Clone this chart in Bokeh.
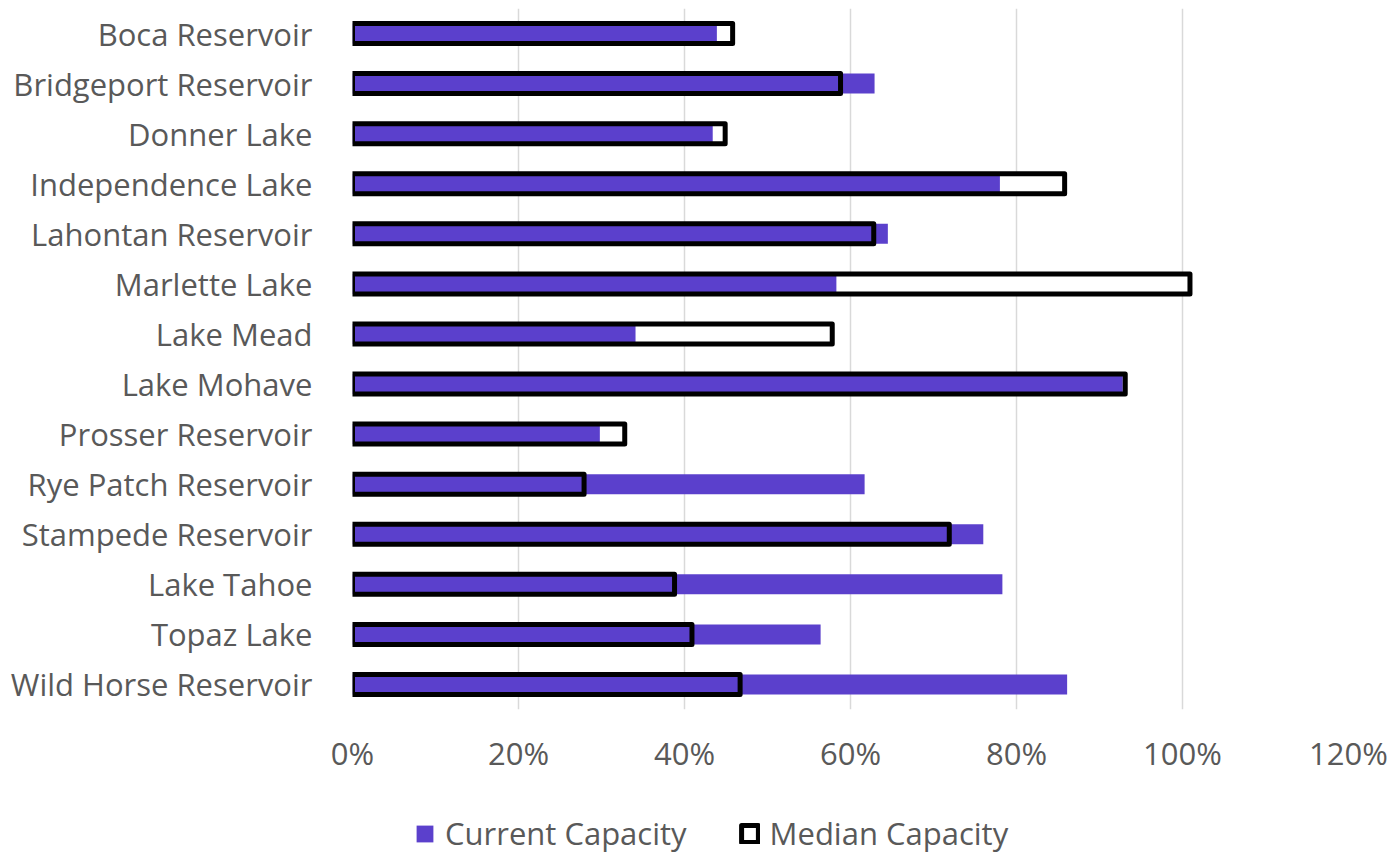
from bokeh.plotting import figure
from bokeh.layouts import column
from bokeh.models import (ColumnDataSource, FactorRange, Range1d, FixedTicker,
                          NumeralTickFormatter, Legend, LegendItem)
from bokeh.embed import file_html
from bokeh.resources import INLINE

# Reservoir storage as a share of total capacity
reservoirs = ["Boca Reservoir", "Bridgeport Reservoir", "Donner Lake", "Independence Lake",
              "Lahontan Reservoir", "Marlette Lake", "Lake Mead", "Lake Mohave",
              "Prosser Reservoir", "Rye Patch Reservoir", "Stampede Reservoir",
              "Lake Tahoe", "Topaz Lake", "Wild Horse Reservoir"]
current_capacity = [0.439, 0.629, 0.434, 0.780, 0.645, 0.583, 0.341, 0.928,
                    0.298, 0.617, 0.760, 0.783, 0.564, 0.861]
median_capacity = [0.458, 0.588, 0.449, 0.858, 0.628, 1.009, 0.578, 0.931,
                   0.328, 0.279, 0.719, 0.388, 0.409, 0.467]
x_ticks = [0.0, 0.2, 0.4, 0.6, 0.8, 1.0, 1.2]
series_labels = ["Current Capacity", "Median Capacity"]

PURPLE = "#5b40cc"
TEXT = "#595959"
FONT = "Open Sans"
FONT_SIZE = "31px"

CUR_STYLE = dict(fill_color=PURPLE, line_color=None)
MED_FILL_STYLE = dict(fill_color="white", line_color=None)
MED_LINE_STYLE = dict(fill_color=None, line_color="black", line_width=5, line_join="round")

src = ColumnDataSource(dict(name=reservoirs, current=current_capacity, median=median_capacity))

p = figure(width=1393, height=800, output_backend="svg", toolbar_location=None,
           y_range=FactorRange(factors=list(reversed(reservoirs)), range_padding=0),
           x_range=Range1d(0, 1.2),
           min_border_left=352, min_border_right=45, min_border_top=8, min_border_bottom=91)
p.outline_line_color = None
p.background_fill_color = "white"
p.border_fill_color = "white"

# white body of the median bars, then the current bars, then the median outlines on top
p.hbar(y="name", right="median", left=0, height=0.4, source=src, **MED_FILL_STYLE)
p.hbar(y="name", right="current", left=0, height=0.4, source=src, **CUR_STYLE)
p.hbar(y="name", right="median", left=0, height=0.4, source=src, **MED_LINE_STYLE)

# x axis
p.xaxis.ticker = FixedTicker(ticks=x_ticks)
p.xaxis.formatter = NumeralTickFormatter(format="0%")
p.xaxis.axis_line_color = None
p.xaxis.major_tick_line_color = None
p.xaxis.minor_tick_line_color = None
p.xaxis.major_label_standoff = 16
p.xaxis.major_label_text_font = FONT
p.xaxis.major_label_text_font_size = FONT_SIZE
p.xaxis.major_label_text_color = TEXT

# y axis
p.yaxis.axis_line_color = None
p.yaxis.major_tick_line_color = None
p.yaxis.minor_tick_line_color = None
p.yaxis.major_label_standoff = 34
p.yaxis.major_label_text_font = FONT
p.yaxis.major_label_text_font_size = FONT_SIZE
p.yaxis.major_label_text_color = TEXT

# grid
p.xgrid.ticker = FixedTicker(ticks=x_ticks)
p.xgrid.grid_line_color = "#d9d9d9"
p.xgrid.grid_line_width = 1.5
p.ygrid.grid_line_color = None

# legend strip under the chart; the proxy glyphs carry no drawable position
leg = figure(width=1393, height=54, output_backend="svg", toolbar_location=None,
             x_axis_type=None, y_axis_type=None, x_range=Range1d(0, 1), y_range=Range1d(0, 1),
             min_border=0)
leg.outline_line_color = None
leg.xgrid.visible = False
leg.ygrid.visible = False
proxy = ColumnDataSource(dict(y=[float("nan")], right=[float("nan")]))
lg_cur = leg.hbar(y="y", right="right", left=0, height=0.4, source=proxy, **CUR_STYLE)
lg_fill = leg.hbar(y="y", right="right", left=0, height=0.4, source=proxy, **MED_FILL_STYLE)
lg_line = leg.hbar(y="y", right="right", left=0, height=0.4, source=proxy, **MED_LINE_STYLE)

legend = Legend(items=[LegendItem(label=series_labels[0], renderers=[lg_cur]),
                       LegendItem(label=series_labels[1], renderers=[lg_fill, lg_line])],
                orientation="horizontal", location=(62, 0),
                glyph_width=21, glyph_height=21, label_standoff=10, spacing=52,
                padding=0, margin=0, border_line_color=None, background_fill_alpha=0,
                label_text_font=FONT, label_text_font_size=FONT_SIZE,
                label_text_color=TEXT)
leg.add_layout(legend, "center")

layout = column(p, leg, spacing=0)
open("out.html", "w").write(file_html(layout, INLINE))
